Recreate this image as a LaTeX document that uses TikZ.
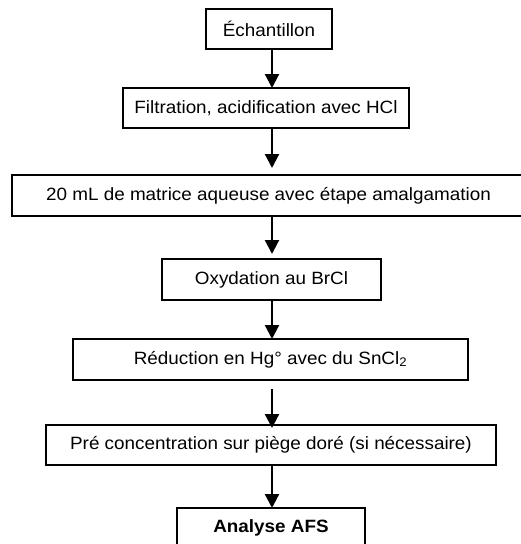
\documentclass[tikz,border=0pt]{standalone}
\usepackage{fontspec}
\setmainfont{Liberation Sans}[FakeStretch=1.06]
\usetikzlibrary{positioning,arrows.meta}
\tikzset{
  stage/.style={draw, line width=2.1pt, outer sep=0pt, inner sep=0pt, minimum height=40pt, align=center},
  flow/.style={-{Triangle[length=14pt,width=14pt]}, line width=2.2pt},
}

\begin{document}
\begin{tikzpicture}[x=1pt, y=-1pt, node distance=40pt, font=\fontsize{17.8}{21}\selectfont]
\useasboundingbox (0,0) rectangle (521,544);
\clip (0,0) rectangle (521,544);

\node (ech)  [stage, minimum width=126pt] at (269,29) {Échantillon};
\node (filt) [stage, minimum width=286pt, below=39pt of ech, xshift=-3pt] {Filtration, acidification avec HCl};
\node (matr) [stage, minimum width=513pt, minimum height=41pt, below=47pt of filt, xshift=2.5pt] {20 mL de matrice aqueuse avec étape amalgamation};
\node (oxy)  [stage, minimum width=219pt, minimum height=41pt, below=43pt of matr, xshift=3pt] {Oxydation au BrCl};
\node (red)  [stage, minimum width=395pt, minimum height=41pt, below=39pt of oxy, xshift=-1pt] {Réduction en Hg° avec du SnCl\textsubscript{2}};
\node (pre)  [stage, minimum width=450pt, below=45pt of red, xshift=0.5pt] {Pré concentration sur piège doré (si nécessaire)};
\node (afs)  [stage, minimum width=188pt, below=43pt of pre] {\textbf{Analyse AFS}};

% main path
\coordinate (ax) at (272,0);
\draw[flow] (ech.south -| ax) -- (filt.north -| ax);
\draw[flow, shorten >=7pt] (filt.south -| ax) -- (matr.north -| ax);
\draw[flow, shorten >=5pt] (matr.south -| ax) -- (oxy.north -| ax);
\draw[flow] (oxy.south -| ax) -- (red.north -| ax);
\draw[flow, shorten <=9pt, shorten >=-3pt] (red.south -| ax) -- (pre.north -| ax);
\draw[flow] (pre.south -| ax) -- (afs.north -| ax);
\end{tikzpicture}
\end{document}
